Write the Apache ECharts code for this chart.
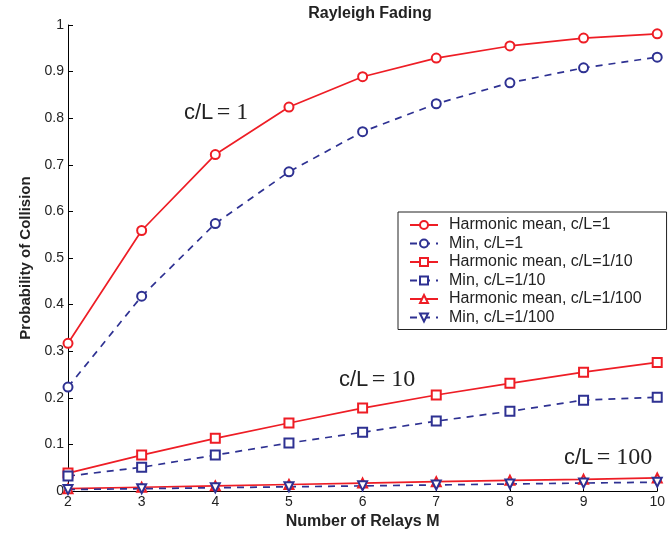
<!DOCTYPE html>
<html>
<head>
<meta charset="utf-8">
<script src="https://cdn.jsdelivr.net/npm/echarts@6/dist/echarts.min.js"></script>
<style>html,body{margin:0;padding:0;background:#fff}#c{width:668px;height:535px}</style>
</head>
<body>
<div id="c"></div>
<script>
const relays = [2, 3, 4, 5, 6, 7, 8, 9, 10];
const harm1 = [0.317, 0.559, 0.722, 0.824, 0.889, 0.929, 0.955, 0.972, 0.981];
const min1 = [0.223, 0.418, 0.574, 0.685, 0.771, 0.831, 0.876, 0.908, 0.931];
const harm10 = [0.0385, 0.077, 0.113, 0.146, 0.178, 0.206, 0.231, 0.255, 0.276];
const min10 = [0.032, 0.051, 0.077, 0.103, 0.126, 0.150, 0.171, 0.195, 0.201];
const harm100 = [0.005, 0.008, 0.011, 0.014, 0.017, 0.020, 0.023, 0.025, 0.028];
const min100 = [0.003, 0.005, 0.007, 0.009, 0.011, 0.013, 0.015, 0.017, 0.019];
const names = ['Harmonic mean, c/L=1','Min, c/L=1','Harmonic mean, c/L=1/10','Min, c/L=1/10','Harmonic mean, c/L=1/100','Min, c/L=1/100'];
const annotations = [['c/L', '= 1'], ['c/L', '= 10'], ['c/L', '= 100']];

const RED = '#ee1d25', BLUE = '#2e3192';
function pairs(ys){ return relays.map((x,i)=>[x, ys[i]]); }
function mk(name, ys, color, dashed, symbol, rot){
  return {
    name, type:'line', data:pairs(ys), symbol, symbolSize: 9, symbolRotate: rot||0,
    showAllSymbol:true, clip:false,
    lineStyle:{color, width:1.7, type: dashed ? [7,6] : 'solid'},
    itemStyle:{color, borderColor:color, borderWidth:1.5},
    emphasis:{disabled:true}
  };
}
function ann(i, left, top){
  return {type:'text', left, top, style:{
    text:'{a|' + annotations[i][0] + '} {b|' + annotations[i][1] + '}',
    rich:{a:{fontFamily:'Liberation Sans', fontSize:22, fill:'#222', color:'#222'},
          b:{fontFamily:'Liberation Serif', fontSize:24, fill:'#222', color:'#222'}}}};
}
const chart = echarts.init(document.getElementById('c'));
chart.setOption({
  animation:false,
  backgroundColor:'#fff',
  title:{text:'Rayleigh Fading', left:365, top:1, textAlign:'center',
    textStyle:{fontFamily:'Liberation Sans', fontWeight:'bold', fontSize:16, color:'#222'}},
  grid:{left:68, right:6, top:25, bottom:43},
  xAxis:{type:'value', min:2, max:10, interval:1,
    name:'Number of Relays M', nameLocation:'middle', nameGap:23,
    nameTextStyle:{fontFamily:'Liberation Sans', fontWeight:'bold', fontSize:16, color:'#222'},
    axisLine:{lineStyle:{color:'#000', width:1}},
    axisTick:{inside:true, length:5, lineStyle:{color:'#000'}},
    axisLabel:{fontFamily:'Liberation Sans', fontSize:14, color:'#222', margin:4},
    splitLine:{show:false}},
  yAxis:{type:'value', min:0, max:1, interval:0.1,
    name:'Probability of Collision', nameLocation:'middle', nameGap:34,
    nameTextStyle:{fontFamily:'Liberation Sans', fontWeight:'bold', fontSize:15, color:'#222'},
    axisLine:{show:true, lineStyle:{color:'#000', width:1}},
    axisTick:{show:true, inside:true, length:5, lineStyle:{color:'#000'}},
    axisLabel:{fontFamily:'Liberation Sans', fontSize:14, color:'#222', margin:4},
    splitLine:{show:false}},
  legend:{orient:'vertical', left:398, top:212, data:names,
    backgroundColor:'#fff', borderColor:'#222', borderWidth:1, borderRadius:0,
    padding:[5,25,4,11], itemGap:2.5, itemWidth:28, itemHeight:10,
    textStyle:{fontFamily:'Liberation Sans', fontSize:16, lineHeight:16, color:'#222', padding:[0,0,0,6]}},
  graphic:[ ann(0, 184, 101), ann(1, 339, 368), ann(2, 564, 446) ],
  series:[
    mk(names[0], harm1, RED, false, 'emptyCircle'),
    mk(names[1], min1, BLUE, true, 'emptyCircle'),
    mk(names[2], harm10, RED, false, 'emptyRect'),
    mk(names[3], min10, BLUE, true, 'emptyRect'),
    mk(names[4], harm100, RED, false, 'emptyTriangle'),
    mk(names[5], min100, BLUE, true, 'emptyTriangle', 180)
  ]
});
</script>
</body>
</html>
